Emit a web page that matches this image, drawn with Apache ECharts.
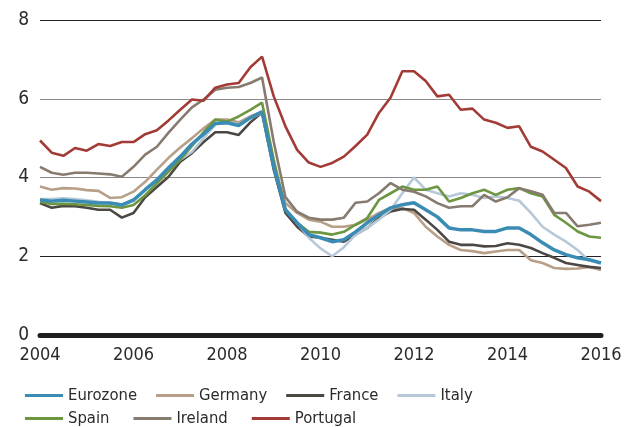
<!DOCTYPE html>
<html>
<head>
<meta charset="utf-8">
<script src="https://cdn.jsdelivr.net/npm/echarts@6/dist/echarts.min.js"></script>
<style>
  html, body { margin: 0; padding: 0; background: #fff; }
  #chart { width: 626px; height: 427px; }
</style>
</head>
<body>
<div id="chart"></div>
<script>
// quarterly points
const quarters = [
  2004, 2004.25, 2004.5, 2004.75, 2005, 2005.25, 2005.5, 2005.75,
  2006, 2006.25, 2006.5, 2006.75, 2007, 2007.25, 2007.5, 2007.75,
  2008, 2008.25, 2008.5, 2008.75, 2009, 2009.25, 2009.5, 2009.75,
  2010, 2010.25, 2010.5, 2010.75, 2011, 2011.25, 2011.5, 2011.75,
  2012, 2012.25, 2012.5, 2012.75, 2013, 2013.25, 2013.5, 2013.75,
  2014, 2014.25, 2014.5, 2014.75, 2015, 2015.25, 2015.5, 2015.75, 2016
]

const eurozone = [3.43, 3.4, 3.42, 3.4, 3.38, 3.35, 3.35, 3.3, 3.43, 3.69, 3.94, 4.25,
  4.53, 4.85, 5.1, 5.37, 5.39, 5.32, 5.52, 5.67, 4.27, 3.18, 2.85, 2.55,
  2.47, 2.37, 2.42, 2.62, 2.85, 3.05, 3.23, 3.31, 3.36, 3.18, 3.0, 2.72,
  2.67, 2.67, 2.63, 2.63, 2.72, 2.72, 2.55, 2.34, 2.16, 2.04, 1.96, 1.91, 1.83]
const germany = [3.77, 3.69, 3.73, 3.72, 3.68, 3.66, 3.48, 3.5, 3.64, 3.89, 4.2, 4.5,
  4.76, 5.0, 5.25, 5.47, 5.47, 5.4, 5.55, 5.67, 4.3, 3.35, 3.1, 2.93,
  2.88, 2.75, 2.75, 2.8, 2.93, 3.1, 3.23, 3.23, 3.1, 2.75, 2.5, 2.29,
  2.16, 2.13, 2.08, 2.12, 2.16, 2.16, 1.9, 1.83, 1.7, 1.68, 1.69, 1.73, 1.65]
const france = [3.35, 3.23, 3.28, 3.27, 3.23, 3.18, 3.18, 2.98, 3.1, 3.5, 3.76, 4.02,
  4.4, 4.62, 4.9, 5.15, 5.15, 5.08, 5.4, 5.65, 4.2, 3.1, 2.75, 2.5,
  2.47, 2.42, 2.37, 2.55, 2.72, 2.97, 3.14, 3.2, 3.18, 2.93, 2.67, 2.37,
  2.29, 2.29, 2.25, 2.26, 2.33, 2.29, 2.21, 2.08, 1.96, 1.83, 1.78, 1.73, 1.7]
const italy = [3.45, 3.45, 3.47, 3.45, 3.42, 3.38, 3.35, 3.32, 3.4, 3.68, 3.92, 4.2,
  4.45, 4.65, 5.0, 5.35, 5.4, 5.35, 5.5, 5.65, 4.3, 3.2, 2.85, 2.47,
  2.2, 2.0, 2.23, 2.55, 2.72, 2.93, 3.18, 3.6, 4.0, 3.69, 3.6, 3.52,
  3.6, 3.56, 3.48, 3.52, 3.48, 3.41, 3.1, 2.75, 2.55, 2.37, 2.16, 1.88, null]
const spain = [3.38, 3.33, 3.33, 3.32, 3.3, 3.28, 3.27, 3.23, 3.3, 3.55, 3.85, 4.15,
  4.45, 4.8, 5.15, 5.47, 5.42, 5.55, 5.72, 5.9, 4.45, 3.18, 2.85, 2.62,
  2.6, 2.55, 2.62, 2.8, 2.97, 3.43, 3.6, 3.77, 3.69, 3.69, 3.77, 3.39,
  3.48, 3.6, 3.69, 3.56, 3.69, 3.73, 3.6, 3.52, 3.05, 2.85, 2.63, 2.5, 2.47]
const ireland = [4.27, 4.12, 4.07, 4.12, 4.12, 4.1, 4.08, 4.02, 4.27, 4.58, 4.78, 5.14,
  5.47, 5.78, 5.98, 6.23, 6.28, 6.3, 6.4, 6.54, 4.9, 3.5, 3.13, 2.98,
  2.93, 2.93, 2.98, 3.36, 3.39, 3.6, 3.86, 3.69, 3.64, 3.52, 3.35, 3.23,
  3.27, 3.27, 3.56, 3.39, 3.5, 3.73, 3.65, 3.56, 3.1, 3.1, 2.76, 2.8, 2.85]
const portugal = [4.94, 4.63, 4.55, 4.75, 4.68, 4.85, 4.8, 4.9, 4.9, 5.1, 5.2, 5.45,
  5.72, 5.98, 5.95, 6.28, 6.36, 6.4, 6.8, 7.07, 6.06, 5.3, 4.7, 4.38,
  4.27, 4.37, 4.53, 4.8, 5.09, 5.64, 6.03, 6.7, 6.7, 6.45, 6.06, 6.1,
  5.72, 5.75, 5.47, 5.39, 5.26, 5.3, 4.78, 4.66, 4.45, 4.24, 3.77, 3.64, 3.4]

const names = ['Eurozone', 'Germany', 'France', 'Italy', 'Spain', 'Ireland', 'Portugal']
const values = [eurozone, germany, france, italy, spain, ireland, portugal]
const colors = ['#3b8cb4', '#b89f88', '#4b4742', '#b7c9d8', '#6c9640', '#877b70', '#a23b36']
const yTicks = [0, 2, 4, 6, 8]

const font = "'Liberation Sans Narrow', 'DejaVu Sans Condensed', sans-serif"

const chart = echarts.init(document.getElementById('chart'))

const legendBase = {
  left: 20,
  icon: 'rect',
  itemWidth: 38,
  itemHeight: 3,
  textStyle: { fontFamily: font, fontSize: 16.5, color: '#2b2b2b' }
}

chart.setOption({
  animation: false,
  grid: { left: 40, right: 25, top: 20, bottom: 92 },
  legend: [
    { ...legendBase, top: 382, itemGap: 19, data: names.slice(0, 4) },
    { ...legendBase, top: 405, itemGap: 24, data: names.slice(4) }
  ],
  xAxis: {
    type: 'value',
    min: 2004,
    max: 2016,
    interval: 2,
    axisLine: { onZero: true, lineStyle: { color: '#1e1e1e', width: 5 } },
    axisTick: { show: false },
    splitLine: { show: false },
    axisLabel: {
      margin: 11,
      fontFamily: font,
      fontSize: 18,
      color: '#2b2b2b',
      formatter: v => String(v)
    }
  },
  yAxis: {
    type: 'value',
    min: yTicks[0],
    max: yTicks[yTicks.length - 1],
    interval: 2,
    axisLine: { show: false },
    axisTick: { show: false },
    axisLabel: { margin: 11, fontFamily: font, fontSize: 19, color: '#2b2b2b' },
    splitLine: {
      lineStyle: { color: ['#1e1e1e', '#222', '#8a8a8a', '#8a8a8a', '#222'], width: 1.2 }
    }
  },
  series: names.map((name, i) => ({
    name,
    type: 'line',
    data: quarters.map((q, j) => [q, values[i][j]]),
    showSymbol: false,
    z: name === 'Eurozone' ? 4 : 2,
    color: colors[i],
    lineStyle: { color: colors[i], width: name === 'Eurozone' ? 3.5 : 2.6 }
  }))
})
</script>
</body>
</html>
